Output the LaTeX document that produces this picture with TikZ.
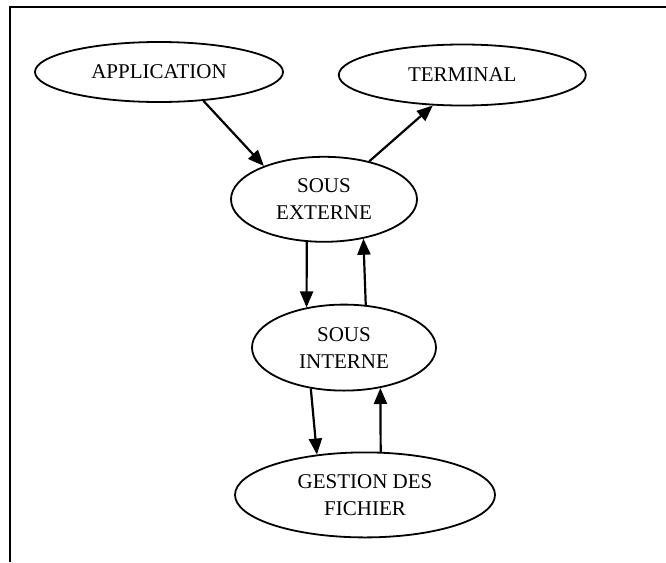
\documentclass[tikz,border=0pt]{standalone}
\usepackage{fontspec}
\setmainfont{Liberation Serif}
\usepackage{tikz}
\usetikzlibrary{shapes.geometric, arrows.meta, positioning}

\begin{document}
\begin{tikzpicture}[
    x=1pt, y=-1pt,
    % Bulles des modules
    bulle/.style={ellipse, draw=black, line width=1.8pt, inner sep=0pt, align=center, font=\fontsize{21}{27}\selectfont},
    % Flèches entre les modules
    fleche/.style={-{Triangle[length=16pt, width=13pt]}, draw=black, line width=2.2pt},
    cadre/.style={draw=black, line width=2pt}
]
\useasboundingbox (0,0) rectangle (666,562);

% Cadre (haut et gauche)
\draw[cadre] (9.5,562) -- (9.5,7) -- (666,7);

% 1. Application
\node[bulle, minimum width=248pt, minimum height=60pt] (app) at (159,72) {APPLICATION};

% 2. Terminal
\node[bulle, minimum width=247pt, minimum height=61pt, right=54pt of app, yshift=-3pt] (term) {TERMINAL};

% 3. Sous-système externe
\node[bulle, minimum width=186pt, minimum height=85pt, below=53pt of app.south, xshift=165pt] (ext) {SOUS\\EXTERNE};

% 4. Sous-système interne
\node[bulle, minimum width=184pt, minimum height=86pt, below=61pt of ext, xshift=20pt] (int) {SOUS\\INTERNE};

% 5. Gestion des fichiers
\node[bulle, minimum width=260pt, minimum height=85pt, below=60pt of int, xshift=21pt] (ges) {GESTION DES\\FICHIER};

% 6. Flèches
\draw[fleche] (app.327) -- (ext.151);
\draw[fleche] (ext.40) -- (term.226);
\draw[fleche] (ext.248) -- (int.133);
\draw[fleche] (int.63) -- (ext.315);
\draw[fleche] (int.231) -- (ges.140);
\draw[fleche] (ges.70) -- (int.312);

\end{tikzpicture}
\end{document}
